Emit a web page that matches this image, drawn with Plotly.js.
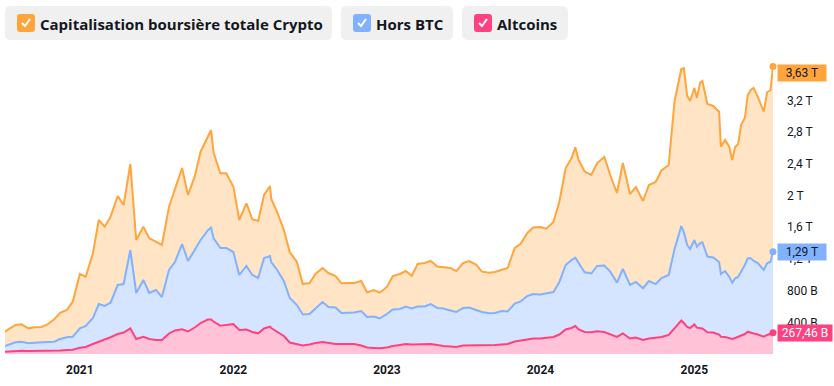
<!DOCTYPE html>
<html>
<head>
<meta charset="utf-8">
<script src="https://cdn.plot.ly/plotly-3.0.1.min.js"></script>
<style>html,body{margin:0;padding:0;background:#fff;}#chart{width:834px;height:386px;}</style>
</head>
<body>
<div id="chart"></div>
<script>
// ---- DATA (USD billions) ----
const dates = [
"2020-07-07","2020-07-15","2020-08-01","2020-08-15","2020-09-01","2020-09-15","2020-10-01","2020-10-15","2020-11-01","2020-11-15","2020-12-01","2020-12-15",
"2021-01-01","2021-01-15","2021-02-01","2021-02-15","2021-03-01","2021-03-15","2021-04-01","2021-04-15","2021-05-01","2021-05-15","2021-06-01","2021-06-15","2021-07-01","2021-07-15","2021-08-01","2021-08-15","2021-09-01","2021-09-15","2021-10-01","2021-10-15","2021-11-01","2021-11-09","2021-11-15","2021-12-01","2021-12-15",
"2022-01-01","2022-01-15","2022-02-01","2022-02-15","2022-03-01","2022-03-15","2022-03-29","2022-04-01","2022-04-15","2022-05-01","2022-05-15","2022-06-01","2022-06-15","2022-07-01","2022-07-15","2022-08-01","2022-08-15","2022-09-01","2022-09-15","2022-10-01","2022-10-15","2022-11-01","2022-11-15","2022-12-01","2022-12-15",
"2023-01-01","2023-01-15","2023-02-01","2023-02-15","2023-03-01","2023-03-15","2023-04-01","2023-04-15","2023-05-01","2023-05-15","2023-06-01","2023-06-15","2023-07-01","2023-07-15","2023-08-01","2023-08-15","2023-09-01","2023-09-15","2023-10-01","2023-10-15","2023-11-01","2023-11-15","2023-12-01","2023-12-15",
"2024-01-01","2024-01-15","2024-02-01","2024-02-15","2024-03-01","2024-03-15","2024-03-24","2024-04-01","2024-04-15","2024-05-01","2024-05-15","2024-06-01","2024-06-15","2024-07-01","2024-07-15","2024-08-01","2024-08-15","2024-09-01","2024-09-15","2024-10-01","2024-10-15","2024-11-01","2024-11-15","2024-12-01","2024-12-07","2024-12-15","2024-12-22",
"2025-01-01","2025-01-07","2025-01-15","2025-01-20","2025-02-01","2025-02-15","2025-03-01","2025-03-05","2025-03-15","2025-03-25","2025-04-01","2025-04-08","2025-04-15","2025-04-22","2025-05-01","2025-05-08","2025-05-15","2025-05-22","2025-06-01","2025-06-15","2025-06-23","2025-07-01","2025-07-07"
];
const totalCap = [
281,312,366,375,324,337,341,370,438,521,555,660,
1010,976,1271,1691,1607,1733,1994,1880,2398,1439,1607,1460,1417,1376,1859,2091,2347,2007,2238,2553,2742,2827,2540,2280,2280,
2111,1691,1902,1700,1678,2007,2120,1960,1792,1565,1287,1161,883,896,1010,1085,1022,984,892,896,896,921,776,808,774,
846,984,1010,1047,984,1136,1148,1174,1104,1098,1085,1047,1148,1174,1129,1039,1026,1035,1066,1085,1338,1392,1527,1596,
1603,1581,1666,1922,2347,2470,2609,2448,2303,2259,2410,2486,2259,2032,2410,2019,2108,1931,2133,2171,2316,2385,3193,3597,3609,3256,3193,
3357,3230,3426,3445,3155,3130,3054,2616,2701,2616,2448,2612,2646,2890,2978,3269,3332,3357,3243,3058,3303,3332,3630
];
const exBtc = [
101,114,148,155,135,143,143,151,155,189,211,218,
324,353,454,631,606,647,871,883,1312,770,934,770,808,719,1060,1161,1388,1174,1312,1439,1559,1596,1460,1338,1338,
1287,997,1111,997,959,1212,1237,1161,1060,921,707,618,498,505,568,656,593,587,517,517,524,543,467,473,448,
505,562,568,599,574,599,599,631,581,574,549,530,581,587,555,530,514,517,543,536,637,663,732,757,
751,764,782,909,1123,1186,1215,1148,1031,1016,1111,1117,1039,902,1073,871,909,830,921,883,959,997,1325,1615,1540,1376,1325,
1439,1354,1401,1410,1230,1218,1161,1010,1047,976,900,955,972,1031,1123,1208,1208,1174,1148,1060,1145,1165,1290
];
const altcoins = [
29,32,38,40,38,38,38,40,40,44,50,54,
80,88,126,158,183,211,252,271,324,189,218,189,177,177,259,297,312,284,334,391,435,435,410,357,366,
379,303,309,278,261,322,345,328,278,227,145,120,107,120,139,151,139,126,126,126,126,107,82,76,72,
82,101,114,126,120,120,120,126,114,101,95,88,107,107,110,110,114,114,120,126,158,170,189,196,
196,202,215,246,309,328,353,309,278,274,286,278,252,215,259,196,208,177,196,208,215,240,322,423,391,341,328,
372,332,328,322,274,271,246,218,215,202,189,202,215,227,252,281,265,259,246,218,240,252,267.46
];
const seriesNames = ["Capitalisation boursière totale Crypto", "Hors BTC", "Altcoins"];
const yTickVals = [400, 800, 1200, 1600, 2000, 2400, 2800, 3200];
const yTickText = ["400 B", "800 B", "1,2 T", "1,6 T", "2 T", "2,4 T", "2,8 T", "3,2 T"];

// ---- STYLE ----
const lineColors = ["#FFA53C", "#82B1FF", "#FF4181"];
const fillColors = ["#FFE5C5", "#D6E5FF", "#FFC2D7"];
const badgeText = ["#131722", "#131722", "#FFFFFF"];
const TXT = "#131722";
const FONT = "Roboto, 'Open Sans', sans-serif";
const LEGFONT = "'Open Sans', Roboto, sans-serif";

const W = 834, H = 386, M = {l: 5, r: 61, t: 64, b: 32};
const PW = W - M.l - M.r, PH = H - M.t - M.b;
const YMAX = 3660;
const px = X => (X - M.l) / PW;
const py = Y => (H - M.b - Y) / PH;
function rr(x0, y0, x1, y1, r) {
  const P = (X, Y) => px(X).toFixed(5) + "," + py(Y).toFixed(5);
  return "M" + P(x0 + r, y0) + " L" + P(x1 - r, y0) + " Q" + P(x1, y0) + " " + P(x1, y0 + r) +
    " L" + P(x1, y1 - r) + " Q" + P(x1, y1) + " " + P(x1 - r, y1) +
    " L" + P(x0 + r, y1) + " Q" + P(x0, y1) + " " + P(x0, y1 - r) +
    " L" + P(x0, y0 + r) + " Q" + P(x0, y0) + " " + P(x0 + r, y0) + " Z";
}
function fmt(v) {
  if (v >= 1000) return (v / 1000).toFixed(2).replace(".", ",") + " T";
  return v.toFixed(2).replace(".", ",") + " B";
}

const seriesData = [totalCap, exBtc, altcoins];
const traces = [];
[2, 1, 0].forEach((i, k) => {
  traces.push({
    x: dates, y: seriesData[i], type: "scatter", mode: "lines",
    name: seriesNames[i],
    line: {color: lineColors[i], width: 2},
    fill: k === 0 ? "tozeroy" : "tonexty",
    fillcolor: fillColors[i],
    hoverinfo: "skip", showlegend: false
  });
});
[0, 1, 2].forEach(i => {
  const s = seriesData[i];
  traces.push({
    x: [dates[dates.length - 1]], y: [s[s.length - 1]], type: "scatter", mode: "markers",
    marker: {color: lineColors[i], size: 7}, hoverinfo: "skip", showlegend: false, cliponaxis: false
  });
});

const shapes = [], annotations = [];
const legendItems = [
  {box: [5, 332], cb: 17, tx: 39},
  {box: [341, 453], cb: 353, tx: 375},
  {box: [462, 568], cb: 474, tx: 496}
];
legendItems.forEach((it, i) => {
  shapes.push({type: "path", xref: "paper", yref: "paper", path: rr(it.box[0], 6, it.box[1], 40, 6),
    fillcolor: "#F0F0F0", line: {width: 0}});
  shapes.push({type: "path", xref: "paper", yref: "paper", path: rr(it.cb, 14, it.cb + 18, 32, 3),
    fillcolor: lineColors[i], line: {width: 0}});
  const P = (X, Y) => px(X).toFixed(5) + "," + py(Y).toFixed(5);
  shapes.push({type: "path", xref: "paper", yref: "paper",
    path: "M" + P(it.cb + 5, 23) + " L" + P(it.cb + 8, 26) + " L" + P(it.cb + 13, 19),
    line: {color: "#FFFFFF", width: 2}});
  annotations.push({xref: "paper", yref: "paper", x: px(it.tx - 1), y: py(23.5), xanchor: "left", yanchor: "middle",
    text: seriesNames[i], showarrow: false, font: {family: LEGFONT, size: 15, weight: 700, color: TXT}});
});
const halfBadge = 8.5 / PH;
[0, 1, 2].forEach(i => {
  const s = seriesData[i];
  const v = s[s.length - 1];
  const t = fmt(v);
  let yy = Math.min(v / YMAX, 1 - halfBadge);
  annotations.push({xref: "paper", yref: "paper", x: 1, xshift: 4, y: yy, xanchor: "left", yanchor: "middle",
    text: t, showarrow: false, bgcolor: lineColors[i], borderpad: 1, width: 28 + 3 * t.length, align: "center",
    font: {family: FONT, size: 12, color: badgeText[i]}});
});

const layout = {
  width: W, height: H,
  margin: M,
  paper_bgcolor: "#FFFFFF", plot_bgcolor: "#FFFFFF",
  showlegend: false,
  hovermode: false,
  font: {family: FONT, size: 12, color: TXT},
  xaxis: {
    type: "date", range: [dates[0], dates[dates.length - 1]],
    showgrid: false, zeroline: false, showline: false, ticks: "",
    tick0: "2021-01-01", dtick: "M12", tickformat: "<b>%Y</b>",
    ticklabelstandoff: 7,
    tickfont: {family: FONT, size: 12, color: TXT}
  },
  yaxis: {
    side: "right", range: [0, YMAX],
    showgrid: false, zeroline: false, showline: false, ticks: "",
    tickvals: yTickVals, ticktext: yTickText,
    ticklabelstandoff: 13,
    tickfont: {family: FONT, size: 12, color: TXT}
  },
  shapes: shapes,
  annotations: annotations
};
Plotly.newPlot("chart", traces, layout, {displayModeBar: false, staticPlot: true});
</script>
</body>
</html>
